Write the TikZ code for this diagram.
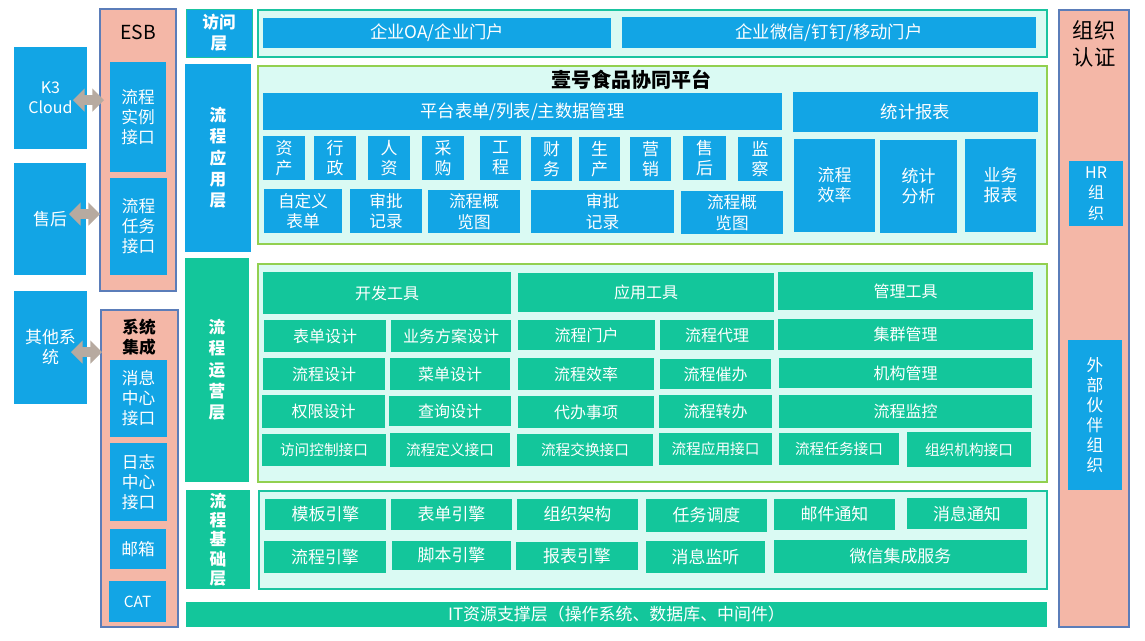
\documentclass[tikz,border=0pt]{standalone}
\usepackage{fontspec}
\setmainfont{Noto Sans CJK SC}
\usetikzlibrary{shapes.arrows}
\definecolor{bl}{HTML}{12A5E5}
\definecolor{gr}{HTML}{13C69B}
\definecolor{mint}{HTML}{DAFAF3}
\definecolor{salmon}{HTML}{F4B7A7}
\definecolor{salb}{HTML}{5B7DB9}
\definecolor{lgreen}{HTML}{92D050}
\definecolor{tealb}{HTML}{1AC4A0}
\definecolor{agray}{HTML}{B7AAA0}
\newcommand\fsz[2]{\fontsize{#1}{#2}\selectfont}
\newcommand\bx[7]{\node[#6, minimum width={(#4-#2)*0.75pt}, minimum height={(#5-#3)*0.75pt}] (#1) at ({(#2+#4)/2},{(#3+#5)/2}) {#7};}
\tikzset{
  box/.style={rectangle, inner sep=0pt, outer sep=0pt, align=center, text=white, font=\fsz{12}{15}},
  bb/.style={box, fill=bl},
  gb/.style={box, fill=gr},
  panelA/.style={rectangle, inner sep=0pt, outer sep=0pt, fill=mint, draw=tealb, line width=0.9pt},
  panelB/.style={rectangle, inner sep=0pt, outer sep=0pt, fill=mint, draw=lgreen, line width=0.9pt},
  salbox/.style={rectangle, inner sep=0pt, outer sep=0pt, fill=salmon, draw=salb, line width=0.8pt},
  layer/.style={box, font=\bfseries\fsz{12.5}{16}},
  big/.style={font=\fsz{13}{16}},
  mid/.style={font=\fsz{12.7}{15}},
  sm/.style={font=\fsz{11}{14}},
  darrow/.style={double arrow, fill=agray, inner xsep=0pt, inner ysep=3.4pt, outer sep=0pt,
    minimum height=23.25pt, minimum width=17.25pt, double arrow head extend=5.2pt}
}
\begin{document}
\begin{tikzpicture}[x=0.75pt,y=-0.75pt]
\useasboundingbox (0,0) rectangle (1145,640);
% left systems
\bx{k3}{14}{47}{87}{149}{bb}{K3\\Cloud}
\bx{sh}{14}{163}{86}{275}{bb, mid}{售后}
\bx{qt}{14}{291}{87}{404}{bb, mid}{其他系\\统}
% ESB
\bx{esb}{100}{9}{176}{291}{salbox}{}
\node[text=black, font=\fsz{14.5}{17}] (esbt) at (138,32) {ESB};
\bx{lcsl}{110}{62}{166}{172}{bb, font=\fsz{12.5}{15}}{流程\\实例\\接口}
\bx{lcrw}{110}{178}{167}{275}{bb, font=\fsz{12.5}{15}}{流程\\任务\\接口}
% 系统集成
\bx{xtjc}{101}{310}{178}{627}{salbox}{}
\node[text=black, align=center, font=\bfseries\fsz{12.5}{15}] (xtjct) at (139,337) {系统\\集成};
\bx{xxzx}{110}{360}{167}{437}{bb, font=\fsz{12.5}{15}}{消息\\中心\\接口}
\bx{rzzx}{110}{443}{167}{521}{bb, font=\fsz{12.5}{15}}{日志\\中心\\接口}
\bx{yx}{110}{529}{166}{569}{bb, font=\fsz{12.5}{15}}{邮箱}
\bx{cat}{109}{581}{166}{622}{bb, font=\fsz{11.5}{14}}{CAT}
% arrows
\node[darrow] (a1) at (88.5,100) {};
\node[darrow] (a2) at (84.5,214) {};
\node[darrow] (a3) at (86.5,352) {};
% layer labels
\bx{L1}{186}{9}{252}{57}{layer, fill=bl, draw=tealb, line width=0.6pt}{访问\\层}
\bx{L2}{185}{64}{251}{252}{layer, fill=bl}{流\\程\\应\\用\\层}
\bx{L3}{185}{258}{249}{482}{layer, fill=gr}{流\\程\\运\\营\\层}
\bx{L4}{186}{490}{250}{589}{layer, fill=gr, font=\bfseries\fsz{12.5}{14.5}}{流\\程\\基\\础\\层}
% access panel
\bx{accP}{258}{10}{1047}{57}{panelA}{}
\bx{oa}{263}{18}{611}{48}{bb, big}{企业OA/企业门户}
\bx{wx}{622}{17}{1036}{48}{bb, big}{企业微信/钉钉/移动门户}
% app panel
\bx{appP}{258}{66}{1047}{244}{panelB}{}
\node[text=black, font=\bfseries\fsz{15}{18}] (title) at (631,80) {壹号食品协同平台};
\bx{ptbd}{263}{93}{782}{130}{bb, big}{平台表单/列表/主数据管理}
\bx{tjbb}{793}{92}{1038}{132}{bb, big}{统计报表}
\bx{zc}{263}{136}{305}{180}{bb, mid}{资\\产}
\bx{xz}{314}{136}{356}{180}{bb, mid}{行\\政}
\bx{rz}{368}{136}{410}{180}{bb, mid}{人\\资}
\bx{cg}{422}{136}{464}{180}{bb, mid}{采\\购}
\bx{gc}{480}{136}{521}{180}{bb, mid}{工\\程}
\bx{cw}{531}{137}{572}{181}{bb, mid}{财\\务}
\bx{sc}{579}{137}{620}{181}{bb, mid}{生\\产}
\bx{yxs}{630}{137}{671}{181}{bb, mid}{营\\销}
\bx{shh}{683}{136}{726}{180}{bb, mid}{售\\后}
\bx{jc}{738}{137}{782}{181}{bb, mid}{监\\察}
\bx{zdy}{264}{189}{342}{233}{bb, font=\fsz{12.5}{15.5}}{自定义\\表单}
\bx{spjl}{350}{189}{422}{233}{bb, font=\fsz{12.5}{15.5}}{审批\\记录}
\bx{lcgl}{428}{190}{520}{233}{bb, font=\fsz{12.5}{15.5}}{流程概\\览图}
\bx{spjl2}{531}{190}{674}{233}{bb, font=\fsz{12.5}{15.5}}{审批\\记录}
\bx{lcgl2}{681}{191}{783}{234}{bb, font=\fsz{12.5}{15.5}}{流程概\\览图}
\bx{lcxl}{794}{139}{875}{232}{bb, mid}{流程\\效率}
\bx{tjfx}{880}{140}{957}{233}{bb, mid}{统计\\分析}
\bx{ywbb}{965}{139}{1036}{232}{bb, mid}{业务\\报表}
% ops panel
\bx{opsP}{258}{264}{1047}{482}{panelB}{}
\bx{kfgj}{263}{272}{511}{314}{gb}{开发工具}
\bx{yygj}{518}{273}{774}{312}{gb}{应用工具}
\bx{glgj}{778}{272}{1033}{310}{gb}{管理工具}
\bx{bdsj}{264}{320}{386}{352}{gb}{表单设计}
\bx{ywfa}{391}{320}{511}{352}{gb}{业务方案设计}
\bx{lcmh}{518}{320}{655}{350}{gb}{流程门户}
\bx{lcdl}{660}{320}{774}{350}{gb}{流程代理}
\bx{jqgl}{778}{319}{1033}{350}{gb}{集群管理}
\bx{lcsj}{263}{358}{385}{390}{gb}{流程设计}
\bx{cdsj}{390}{358}{510}{390}{gb}{菜单设计}
\bx{lcxl2}{518}{358}{654}{390}{gb}{流程效率}
\bx{lccb}{660}{359}{771}{389}{gb}{流程催办}
\bx{jggl}{779}{358}{1032}{388}{gb}{机构管理}
\bx{qxsj}{262}{395}{385}{428}{gb}{权限设计}
\bx{cxsj}{389}{396}{511}{426}{gb}{查询设计}
\bx{dbsx}{518}{396}{654}{428}{gb}{代办事项}
\bx{lczb}{659}{395}{772}{428}{gb}{流程转办}
\bx{lcjk}{779}{395}{1032}{428}{gb}{流程监控}
\bx{fwkz}{262}{434}{386}{466}{gb, sm}{访问控制接口}
\bx{lcdy}{390}{433}{510}{467}{gb, sm}{流程定义接口}
\bx{lcjh}{517}{434}{653}{466}{gb, sm}{流程交换接口}
\bx{lcyy}{659}{433}{772}{465}{gb, sm}{流程应用接口}
\bx{lcrwj}{779}{433}{899}{465}{gb, sm}{流程任务接口}
\bx{zzjg}{907}{432}{1031}{467}{gb, sm}{组织机构接口}
% foundation panel
\bx{fdP}{259}{491}{1047}{589}{panelA}{}
\bx{mbyq}{265}{499}{386}{530}{gb, mid}{模板引擎}
\bx{bdyq}{391}{499}{512}{530}{gb, mid}{表单引擎}
\bx{zzjgf}{517}{499}{638}{530}{gb, mid}{组织架构}
\bx{rwdd}{646}{499}{767}{532}{gb, mid}{任务调度}
\bx{yjtz}{774}{499}{895}{530}{gb, mid}{邮件通知}
\bx{xxtz}{907}{498}{1027}{529}{gb, mid}{消息通知}
\bx{lcyq}{264}{541}{386}{573}{gb, mid}{流程引擎}
\bx{jbyq}{392}{541}{511}{570}{gb, mid}{脚本引擎}
\bx{bbyq}{516}{542}{638}{570}{gb, mid}{报表引擎}
\bx{xxjt}{646}{541}{765}{573}{gb, mid}{消息监听}
\bx{wxjc}{774}{540}{1027}{573}{gb, mid}{微信集成服务}
% IT bar
\bx{it}{186}{602}{1047}{627}{gb, mid}{IT资源支撑层（操作系统、数据库、中间件）}
% right column
\bx{zzrz}{1059}{10}{1129}{627}{salbox}{}
\node[text=black, align=center, font=\fsz{16}{20}] (zzrzt) at (1094,44) {组织\\认证};
\bx{hr}{1069}{161}{1123}{226}{bb, font=\fsz{12}{15.5}}{HR\\组\\织};
\bx{wbhb}{1068}{340}{1122}{490}{bb, font=\fsz{12.5}{15}}{外\\部\\伙\\伴\\组\\织}
\end{tikzpicture}
\end{document}
